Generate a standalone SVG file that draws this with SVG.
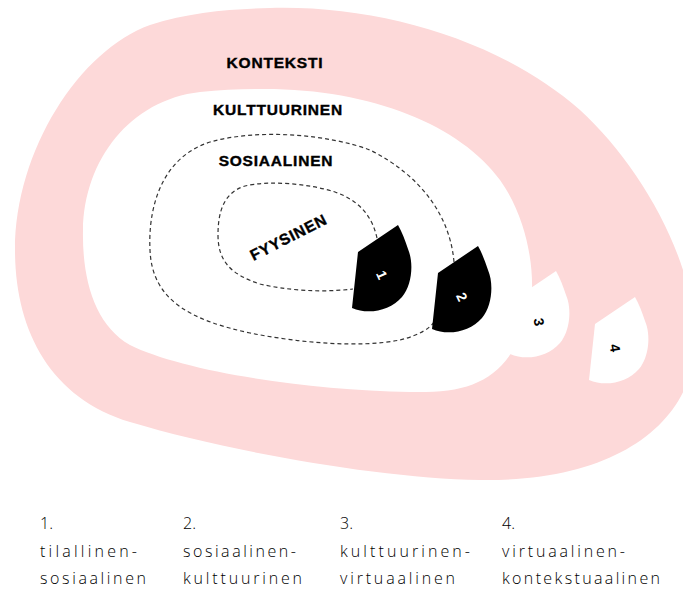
<svg xmlns="http://www.w3.org/2000/svg" width="683" height="590" viewBox="0 0 683 590">
  <style>
    .layer-title { font-family: "Liberation Sans", Arial, sans-serif; font-weight: bold; font-size: 15.5px; letter-spacing: 0.8px; fill: #000; stroke: #000; stroke-width: 0.4; text-anchor: middle; }
    .boundary { fill: none; stroke: #333; stroke-width: 1.2; stroke-dasharray: 4 3; }
    .drop-dark { fill: #000; }
    .drop-light { fill: #fff; }
    .num { font-family: "Liberation Sans", Arial, sans-serif; font-weight: bold; font-size: 14px; text-anchor: middle; dominant-baseline: central; }
    .num-light { fill: #fff; }
    .num-dark { fill: #000; }
    .legend { font-family: "Open Sans", "DejaVu Sans", sans-serif; font-weight: 300; font-size: 16px; fill: #000; }
  </style>
  <defs>
    <!-- fan-shaped marker: two straight edges on the left, a round arc on the right -->
    <path id="drop" d="M0,0 L-40,27 L-46,83 C-30,90 -8,86 4,72 C14,60 16,38 10,24 C7,15 4,7 0,0 Z"/>
  </defs>

  <rect width="683" height="590" fill="#fff"/>

  <!-- context ring -->
  <g id="konteksti">
    <path fill="#fdd9d9" d="M270,8 C380,5 500,40 580,110 C640,165 695,260 695,340 C695,420 620,482 480,480 C380,478 230,452 130,422 C50,398 15,330 15,250 C15,150 80,50 150,25 C190,12 230,9 270,8 Z"/>
    <text class="layer-title" x="275" y="68">KONTEKSTI</text>
  </g>

  <!-- cultural area -->
  <g id="kulttuurinen">
    <path fill="#fff" d="M260,89 C370,88 460,125 500,180 C525,215 533,260 532,290 L512,352 C490,385 460,393 410,392 C300,390 180,370 130,345 C95,325 82,280 83,230 C84,160 130,100 200,92 C220,90 240,89 260,89 Z"/>
    <text class="layer-title" x="278" y="115">KULTTUURINEN</text>
  </g>

  <!-- dashed boundaries -->
  <g id="connectors">
    <path class="boundary" d="M454,262 C450,215 420,175 370,150 C330,135 260,128 210,142 C160,158 148,210 150,250 C152,300 190,320 250,333 C300,343 360,348 400,340 C420,335 430,328 434,322"/>
    <path class="boundary" d="M377,238 C372,215 358,200 335,192 C310,184 270,180 245,186 C222,193 218,215 218,235 C218,262 232,275 260,284 C285,290 320,293 353,289"/>
  </g>

  <g id="sosiaalinen">
    <text class="layer-title" x="276" y="166">SOSIAALINEN</text>
  </g>

  <g id="fyysinen">
    <text class="layer-title" transform="translate(291,242) rotate(-27)" x="0" y="0">FYYSINEN</text>
  </g>

  <!-- numbered markers -->
  <g id="marker-1" transform="translate(398,225)">
    <use href="#drop" class="drop-dark"/>
    <text class="num num-light" transform="translate(-16,50) rotate(65)">1</text>
  </g>
  <g id="marker-2" transform="translate(478,246)">
    <use href="#drop" class="drop-dark"/>
    <text class="num num-light" transform="translate(-16,51) rotate(65)">2</text>
  </g>
  <g id="marker-3" transform="translate(556,271)">
    <use href="#drop" class="drop-light"/>
    <text class="num num-dark" transform="translate(-17,51) rotate(80)">3</text>
  </g>
  <g id="marker-4" transform="translate(635,297)">
    <use href="#drop" class="drop-light"/>
    <text class="num num-dark" transform="translate(-20,51) rotate(80)">4</text>
  </g>

  <!-- legend -->
  <g id="legend-1">
    <text class="legend" x="40" y="529">1.</text>
    <text class="legend" x="40" y="557" textLength="97" lengthAdjust="spacing">tilallinen-</text>
    <text class="legend" x="40" y="584" textLength="106" lengthAdjust="spacing">sosiaalinen</text>
  </g>
  <g id="legend-2">
    <text class="legend" x="183" y="529">2.</text>
    <text class="legend" x="183" y="557" textLength="113" lengthAdjust="spacing">sosiaalinen-</text>
    <text class="legend" x="183" y="584" textLength="119" lengthAdjust="spacing">kulttuurinen</text>
  </g>
  <g id="legend-3">
    <text class="legend" x="340" y="529">3.</text>
    <text class="legend" x="340" y="557" textLength="130" lengthAdjust="spacing">kulttuurinen-</text>
    <text class="legend" x="340" y="584" textLength="115" lengthAdjust="spacing">virtuaalinen</text>
  </g>
  <g id="legend-4">
    <text class="legend" x="502" y="529">4.</text>
    <text class="legend" x="502" y="557" textLength="123" lengthAdjust="spacing">virtuaalinen-</text>
    <text class="legend" x="502" y="584" textLength="158" lengthAdjust="spacing">kontekstuaalinen</text>
  </g>
</svg>
